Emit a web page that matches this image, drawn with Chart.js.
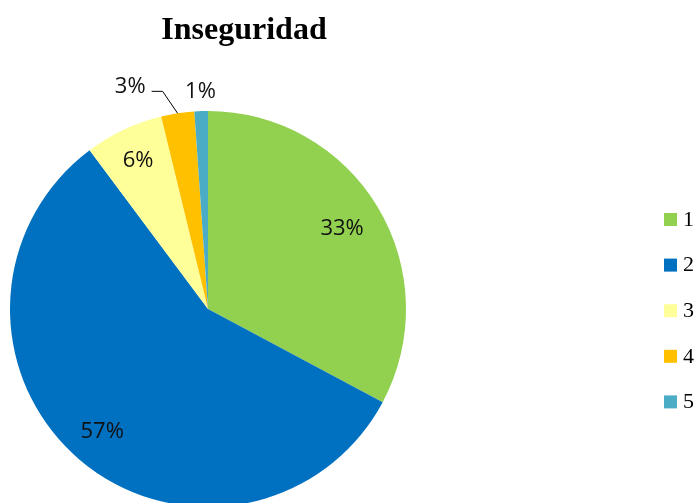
<!DOCTYPE html>
<html>
<head>
<meta charset="utf-8">
<script src="https://cdn.jsdelivr.net/npm/chart.js@4/dist/chart.umd.min.js"></script>
<style>
  html, body { margin: 0; padding: 0; background: #fff; overflow: hidden; }
  canvas { display: block; }
</style>
</head>
<body>
<canvas id="pieChart" width="700" height="540"></canvas>
<script>
// values (percent of answers)
const categories = ['1', '2', '3', '4', '5'];
const shares = [32.8, 57.0, 6.4, 2.7, 1.1];
const chartTitle = 'Inseguridad';

const sliceColors = ['#92D050', '#0070C0', '#FFFF99', '#FFC000', '#4BACC6'];
// where each percent label goes, as a fraction of the pie radius
const labelSpots = [
    { r: 0.79 },
    { r: 0.82 },
    { r: 0.83 },
    { leader: true },
    { r: 1.10 }
];

const extras = {
    id: 'extras',
    afterDatasetsDraw(chart) {
        const ctx = chart.ctx;
        const arcs = chart.getDatasetMeta(0).data;
        const total = shares.reduce((a, b) => a + b, 0);
        ctx.save();
        ctx.fillStyle = '#111';
        ctx.font = '22px "Open Sans", sans-serif';
        ctx.textAlign = 'center';
        ctx.textBaseline = 'middle';
        arcs.forEach((arc, i) => {
            const txt = Math.round(shares[i] / total * 100) + '%';
            const mid = (arc.startAngle + arc.endAngle) / 2;
            const spot = labelSpots[i];
            if (spot.leader) {
                const sx = arc.x + Math.cos(mid) * arc.outerRadius;
                const sy = arc.y + Math.sin(mid) * arc.outerRadius;
                ctx.strokeStyle = '#000';
                ctx.lineWidth = 1;
                ctx.beginPath();
                ctx.moveTo(sx, sy);
                ctx.lineTo(sx - 15, sy - 22);
                ctx.lineTo(sx - 26, sy - 22);
                ctx.stroke();
                ctx.textAlign = 'right';
                ctx.fillText(txt, sx - 32, sy - 27);
                ctx.textAlign = 'center';
            } else {
                const r = arc.outerRadius * spot.r;
                ctx.fillText(txt, arc.x + Math.cos(mid) * r, arc.y + Math.sin(mid) * r);
            }
        });

        // title
        ctx.fillStyle = '#000';
        ctx.font = 'bold 32px "Liberation Serif", serif';
        ctx.textAlign = 'center';
        ctx.fillText(chartTitle, 244, 31);

        // legend
        ctx.font = '22px "Liberation Serif", serif';
        ctx.textAlign = 'left';
        categories.forEach((c, i) => {
            const y = 219 + i * 45.6;
            ctx.fillStyle = sliceColors[i];
            ctx.fillRect(664, y - 6, 13, 13);
            ctx.fillStyle = '#000';
            ctx.fillText(c, 683, y + 1);
        });
        ctx.restore();
    }
};

new Chart(document.getElementById('pieChart'), {
    type: 'pie',
    data: {
        labels: categories,
        datasets: [{
            data: shares,
            backgroundColor: sliceColors,
            borderWidth: 0,
            hoverOffset: 0
        }]
    },
    options: {
        responsive: false,
        animation: false,
        layout: { padding: { left: 10, right: 294, top: 111, bottom: 33 } },
        plugins: {
            legend: { display: false },
            title: { display: false },
            tooltip: { enabled: false }
        }
    },
    plugins: [extras]
});
</script>
</body>
</html>
